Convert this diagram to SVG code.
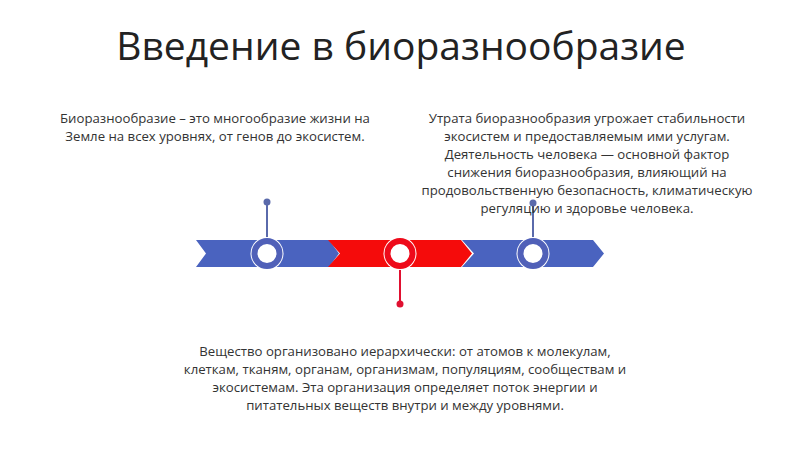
<svg xmlns="http://www.w3.org/2000/svg" width="800" height="449" viewBox="0 0 800 449">
<style>
text{font-family:"Open Sans","Noto Sans","Liberation Sans",sans-serif;fill:#333}
.t{font-size:13.2px;text-anchor:middle}
.b{fill:#4a63bf}.r{fill:#f50b0b}
</style>
<rect width="800" height="449" fill="#fff"/>
<text x="401" y="60" style="font-size:39px;text-anchor:middle;fill:#222">Введение в биоразнообразие</text>
<g id="band">
<polygon class="b" points="196,240 329,240 339,253.5 329,267 196,267 206,253.5"/>
<polygon class="r" points="328,240 461,240 472,253.5 461,267 328,267 340,253.5"/>
<polygon class="b" points="462,240 593,240 604,253.5 593,267 462,267 474,253.5"/>
</g>
<g id="connectors">
<line x1="267" y1="202" x2="267" y2="240" stroke="#5a6aab" stroke-width="2"/>
<circle cx="267" cy="202" r="3.5" fill="#5a6aab"/>
<line x1="533" y1="203" x2="533" y2="240" stroke="#5a6aab" stroke-width="2"/>
<circle cx="533" cy="203" r="3.5" fill="#5a6aab"/>
<line x1="400" y1="267" x2="400" y2="304" stroke="#e01030" stroke-width="2"/>
<circle cx="400" cy="304" r="3.5" fill="#e01030"/>
</g>
<g id="node1"><circle cx="267" cy="253.5" r="16.5" fill="#fff"/><circle cx="267" cy="253.5" r="12.5" fill="#fff" stroke="#5060b8" stroke-width="6"/></g>
<g id="node2"><circle cx="400" cy="253.5" r="16.5" fill="#fff"/><circle cx="400" cy="253.5" r="12.5" fill="#fff" stroke="#ee0a1a" stroke-width="6"/></g>
<g id="node3"><circle cx="533" cy="253.5" r="16.5" fill="#fff"/><circle cx="533" cy="253.5" r="12.5" fill="#fff" stroke="#5060b8" stroke-width="6"/></g>
<g id="text1"><text class="t" x="215" y="123">Биоразнообразие – это многообразие жизни на</text><text class="t" x="215" y="141">Земле на всех уровнях, от генов до экосистем.</text></g>
<g id="text3"><text class="t" x="587" y="123">Утрата биоразнообразия угрожает стабильности</text><text class="t" x="587" y="141">экосистем и предоставляемым ими услугам.</text><text class="t" x="587" y="159">Деятельность человека — основной фактор</text><text class="t" x="587" y="177">снижения биоразнообразия, влияющий на</text><text class="t" x="587" y="195">продовольственную безопасность, климатическую</text><text class="t" x="587" y="213">регуляцию и здоровье человека.</text></g>
<g id="text2"><text class="t" x="405" y="356">Вещество организовано иерархически: от атомов к молекулам,</text><text class="t" x="405" y="374">клеткам, тканям, органам, организмам, популяциям, сообществам и</text><text class="t" x="405" y="392">экосистемам. Эта организация определяет поток энергии и</text><text class="t" x="405" y="410">питательных веществ внутри и между уровнями.</text></g>
</svg>
